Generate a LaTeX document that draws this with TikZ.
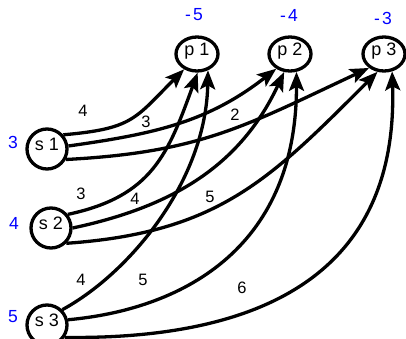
\documentclass[tikz,border=0pt]{standalone}
\usepackage{fontspec}
\setmainfont{Liberation Sans}
\usetikzlibrary{arrows.meta,shapes.geometric}
\begin{document}
\begin{tikzpicture}[x=1pt,y=1pt,
  snode/.style={draw,circle,line width=3.3pt,minimum size=40pt,inner sep=0pt},
  pnode/.style={draw,ellipse,line width=3.3pt,minimum width=42pt,minimum height=34pt,inner sep=0pt},
  ntext/.style={font=\fontsize{18}{20}\selectfont,inner sep=0pt},
  lbl/.style={font=\fontsize{16.5}{18}\selectfont,inner sep=0pt},
  supply/.style={font=\fontsize{17.5}{19}\selectfont,text=blue,inner sep=0pt},
  flow/.style={line width=3.3pt,-{Stealth[length=19pt,width=15pt,inset=4pt]}}]
\useasboundingbox (0,0) rectangle (406,339);
% nodes
\node[snode] (s1) at (47,190) {};
\node[snode] (s2) at (51,111) {};
\node[snode] (s3) at (47,14) {};
\node[pnode] (p1) at (197,285) {};
\node[pnode] (p2) at (290,285) {};
\node[pnode] (p3) at (384,285) {};
\node[ntext] (ts1) at ([yshift=5pt]s1.center) {s 1};
\node[ntext] (ts2) at ([yshift=5pt]s2.center) {s 2};
\node[ntext] (ts3) at ([yshift=5pt]s3.center) {s 3};
\node[ntext] (tp1) at ([yshift=3pt]p1.center) {p 1};
\node[ntext] (tp2) at ([yshift=3pt]p2.center) {p 2};
\node[ntext] (tp3) at ([yshift=3pt]p3.center) {p 3};
% supplies / demands
\node[supply] (b1) at (13,197) {3};
\node[supply] (b2) at (14,116) {4};
\node[supply] (b3) at (13,22) {5};
\node[supply] (d1) at (194,324) {-\kern2pt5};
\node[supply] (d2) at (289,324) {-\kern2pt4};
\node[supply] (d3) at (383,321) {-\kern2pt3};
% edges
\draw[flow] (s1.41) to[out=5,in=-135,looseness=1.3] (p1.-130);
\draw[flow] (s1.8) to[out=8,in=-142] (p2.-133);
\draw[flow] (s1.-29) to[out=3,in=-155,looseness=1.1] (p3.-137);
\draw[flow] (s2.39) to[out=12,in=-110,looseness=1.15] (p1.-88);
\draw[flow] (s2.0) to[out=12,in=-115] (p2.-108);
\draw[flow] (s2.-45) to[out=4,in=-135,looseness=1.1] (p3.-110);
\draw[flow] (s3.45) .. controls +(68,37) and +(-2,-110) .. (p1.-56);
\draw[flow] (s3.14) .. controls +(110,10) and +(0,-180) .. (p2.-70);
\draw[flow] (s3.-35) .. controls +(170,-2) and +(7,-220) .. (p3.-65);
% costs
\node[lbl] (c11) at (83,228) {4};
\node[lbl] (c12) at (146,217) {3};
\node[lbl] (c13) at (235,224) {2};
\node[lbl] (c21) at (81,145) {3};
\node[lbl] (c22) at (135,140) {4};
\node[lbl] (c23) at (210,142) {5};
\node[lbl] (c31) at (81,59) {4};
\node[lbl] (c32) at (143,59) {5};
\node[lbl] (c33) at (242,51) {6};
\end{tikzpicture}
\end{document}
